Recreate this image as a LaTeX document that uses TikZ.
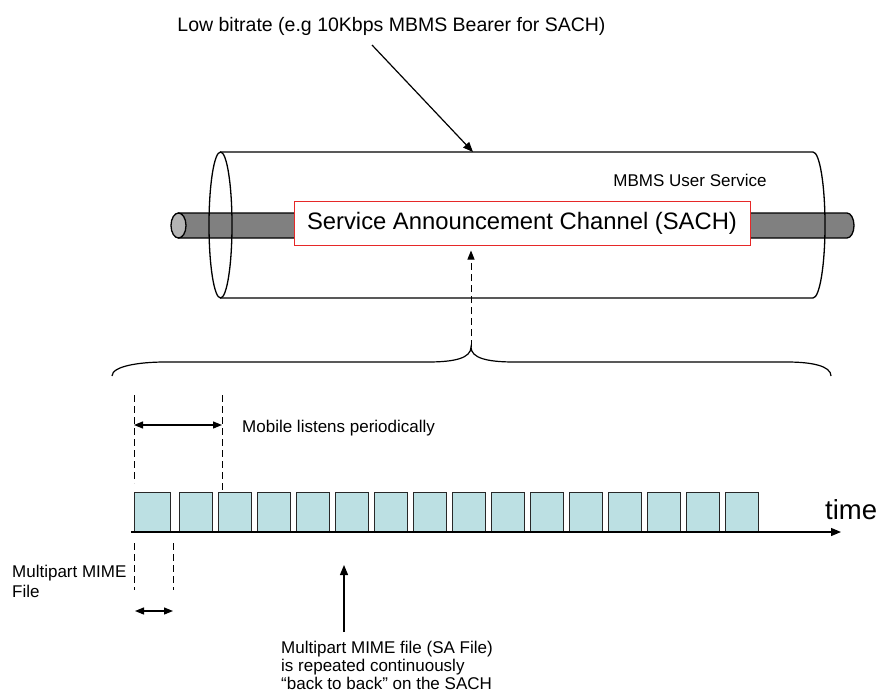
\documentclass[tikz,border=0pt]{standalone}
\usepackage{fontspec}
\setmainfont{Liberation Sans}
\usetikzlibrary{arrows.meta,calc}
\definecolor{rodgray}{RGB}{128,128,128}
\definecolor{capgray}{RGB}{180,180,180}
\definecolor{boxfill}{RGB}{188,224,227}
\definecolor{boxline}{RGB}{40,40,40}
\definecolor{sachred}{RGB}{230,40,40}
\tikzset{
  txt/.style={inner sep=0pt, font=\fontsize{17}{18}\selectfont},
  bigtxt/.style={inner sep=0pt, font=\fontsize{19.5}{22}\selectfont},
  outl/.style={line width=1.3pt, draw=black},
  arr/.style={line width=1.2pt, -{Triangle[length=10pt,width=8pt]}},
  darr/.style={line width=1.2pt, {Triangle[length=9pt,width=7pt]}-{Triangle[length=9pt,width=7pt]}},
  dashline/.style={line width=1pt, dash pattern=on 7pt off 4pt},
  slot/.style={draw=boxline, line width=1pt, fill=boxfill, minimum height=39pt, inner sep=0pt, anchor=south west},
}
\begin{document}
\begin{tikzpicture}[x=1pt,y=-1pt]
\useasboundingbox (0,0) rectangle (882,695);
% rod
\draw[outl, fill=rodgray] (178.5,213) -- (847,213) arc[start angle=-90,end angle=90,x radius=7,y radius=12.5] -- (178.5,238) -- cycle;
\draw[outl, fill=capgray] (178.5,225.5) ellipse[x radius=7.5, y radius=12.5];
% cylinder
\draw[outl] (220.5,152) -- (813,152) arc[start angle=-90,end angle=90,x radius=12,y radius=73] -- (220.5,298);
\draw[outl] (220.5,225) ellipse[x radius=11.5, y radius=73];
% SACH box
\node[draw=sachred, line width=1pt, fill=white, minimum width=456pt, minimum height=44pt, inner sep=0pt,
      font=\fontsize{23.8}{26}\selectfont] (sach) at (522,223) {Service Announcement Channel (SACH)};
\node[txt] (mbms) at (690,180) {MBMS User Service};
% top label
\node[bigtxt] (lbl) at (391.5,26) {Low bitrate (e.g 10Kbps MBMS Bearer for SACH)};
\coordinate (lblfoot) at (372,45);
\coordinate (cyltop) at (473,152);
\draw[arr] (lblfoot) -- (cyltop);
% brace
\coordinate (apex) at (471,347);
\draw[line width=1.2pt] (112,376) .. controls (112,366) and (140,362) .. (165,362) -- (428,362)
  .. controls (455,362) and (471,358) .. (apex) .. controls (471,358) and (487,362) .. (514,362)
  -- (787,362) .. controls (812,362) and (831,366) .. (831,376);
\draw[dashline, -{Triangle[length=9pt,width=7pt]}] (apex) -- ($(apex |- sach.south)+(0,5)$);
% timeline boxes
\node[slot, minimum width=36pt] (b1) at (134,532) {};
\node[slot, minimum width=33pt] (b2) at (179,532) {};
\foreach \i in {0,...,13}{
  \pgfmathtruncatemacro{\n}{\i+3}
  \node[slot, minimum width=33pt] (b\n) at (218+39*\i,532) {};
}
\coordinate (axstart) at (131,532);
\coordinate (axend) at (841,532);
\draw[line width=1.2pt, -{Triangle[length=10pt,width=8pt]}] (axstart) -- (axend);
\node[inner sep=0pt, font=\fontsize{27.5}{30}\selectfont, anchor=west] (time) at (825,510) {time};
% upper dashed + arrow
\coordinate (u1t) at (134,395);
\coordinate (u1b) at (134,483);
\coordinate (u2t) at (222,395);
\draw[dashline] (u1t) -- (u1b);
\draw[dashline] (u2t) -- (b3.north -| u2t);
\coordinate (m1) at (134,425);
\coordinate (m2) at (222,425);
\draw[darr] (m1) -- (m2);
\node[txt, anchor=west] (listen) at (242,428) {Mobile listens periodically};
% lower dashed + arrow
\coordinate (l1t) at (134,543);
\coordinate (l1b) at (134,590);
\coordinate (l2t) at (173,543);
\coordinate (l2b) at (173,590);
\draw[dashline] (l1t) -- (l1b);
\draw[dashline] (l2t) -- (l2b);
\coordinate (n1) at (135,611);
\coordinate (n2) at (173,611);
\draw[darr] (n1) -- (n2);
\node[txt, anchor=north west, align=left, font=\fontsize{17}{20}\selectfont] (mime) at (12,565) {Multipart MIME\\File};
% up arrow + text
\node[txt, anchor=north west, align=left] (sa) at (281,641) {Multipart MIME file (SA File)\\is repeated continuously\\“back to back” on the SACH};
\coordinate (upt) at (344,565);
\draw[arr] (sa.north -| upt) ++(0,-9) coordinate (upb) -- (upt);
\end{tikzpicture}
\end{document}
